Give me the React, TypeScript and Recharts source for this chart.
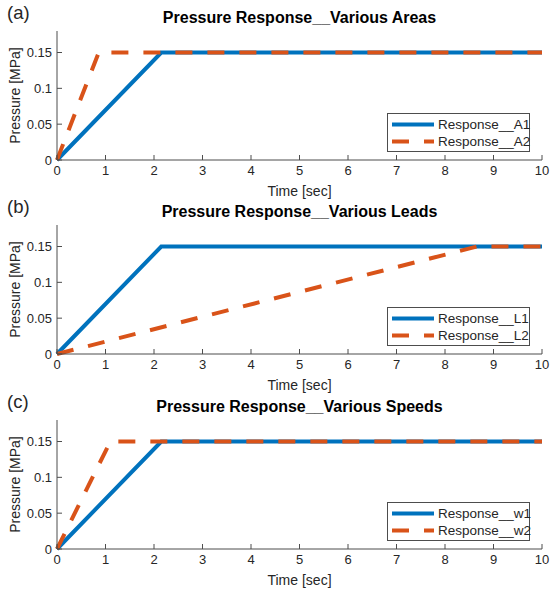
import { LineChart, Line, XAxis, YAxis, Label } from "recharts"

const FONT = '"Liberation Sans", Arial, Helvetica, sans-serif'
const TEXT = "#262626"
const AXIS = "#4d4d4d"
const BLUE = "#0072BD"
const ORANGE = "#D95319"

// time breakpoints [sec] and pressure values [MPa] per series
const tA1 = [0, 2.15, 10]
const pA1 = [0, 0.15, 0.15]
const tA2 = [0, 0.86, 10]
const pA2 = [0, 0.15, 0.15]

const tL1 = [0, 2.15, 10]
const pL1 = [0, 0.15, 0.15]
const tL2 = [0, 8.66, 10]
const pL2 = [0, 0.15, 0.15]

const tW1 = [0, 2.15, 10]
const pW1 = [0, 0.15, 0.15]
const tW2 = [0, 1.1, 10]
const pW2 = [0, 0.15, 0.15]

const xTicks = [0, 1, 2, 3, 4, 5, 6, 7, 8, 9, 10]
const yTicks = [0, 0.05, 0.1, 0.15]

const toRows = (t: number[], p: number[]) => t.map((v, i) => ({ t: v, p: p[i] }))

const panels = [
  {
    tag: "(a)",
    title: "Pressure Response__Various Areas",
    names: ["Response__A1", "Response__A2"],
    s1: toRows(tA1, pA1),
    s2: toRows(tA2, pA2),
    top: 0,
  },
  {
    tag: "(b)",
    title: "Pressure Response__Various Leads",
    names: ["Response__L1", "Response__L2"],
    s1: toRows(tL1, pL1),
    s2: toRows(tL2, pL2),
    top: 194,
  },
  {
    tag: "(c)",
    title: "Pressure Response__Various Speeds",
    names: ["Response__w1", "Response__w2"],
    s1: toRows(tW1, pW1),
    s2: toRows(tW2, pW2),
    top: 389,
  },
]

const tickStyle = { fontSize: 13, fill: TEXT, fontFamily: FONT }

function Panel({ tag, title, names, s1, s2, top }: (typeof panels)[number]) {
  return (
    <div style={{ position: "absolute", left: 0, top, width: 551, height: 200 }}>
      <LineChart
        width={551}
        height={200}
        margin={{ top: 31, right: 9, bottom: 0, left: 12 }}
        style={{ fontFamily: FONT }}
      >
        <XAxis
          xAxisId="b"
          type="number"
          dataKey="t"
          domain={[0, 10]}
          ticks={xTicks}
          height={40}
          tick={tickStyle}
          tickSize={-5}
          tickMargin={11}
          stroke={AXIS}
        >
          <Label
            value="Time [sec]"
            position="insideBottom"
            offset={4}
            style={{ fontSize: 14, fill: TEXT, fontFamily: FONT }}
          />
        </XAxis>
        <XAxis
          xAxisId="t"
          orientation="top"
          type="number"
          dataKey="t"
          domain={[0, 10]}
          ticks={xTicks}
          height={0}
          tick={false}
          tickSize={-5}
          stroke={AXIS}
        />
        <YAxis
          yAxisId="l"
          type="number"
          domain={[0, 0.18]}
          ticks={yTicks}
          width={45}
          tick={tickStyle}
          tickSize={-5}
          tickMargin={10}
          stroke={AXIS}
        >
          <Label
            value="Pressure [MPa]"
            angle={-90}
            position="insideLeft"
            offset={3}
            style={{ fontSize: 14, fill: TEXT, fontFamily: FONT, textAnchor: "middle" }}
          />
        </YAxis>
        <YAxis
          yAxisId="r"
          orientation="right"
          type="number"
          domain={[0, 0.18]}
          ticks={yTicks}
          width={0}
          tick={false}
          tickSize={-5}
          stroke={AXIS}
        />
        <Line
          xAxisId="b"
          yAxisId="l"
          data={s1}
          dataKey="p"
          type="linear"
          stroke={BLUE}
          strokeWidth={4}
          dot={false}
          isAnimationActive={false}
        />
        <Line
          xAxisId="b"
          yAxisId="l"
          data={s2}
          dataKey="p"
          type="linear"
          stroke={ORANGE}
          strokeWidth={4}
          strokeDasharray="17 15"
          dot={false}
          isAnimationActive={false}
        />
      </LineChart>
      <div
        style={{
          position: "absolute",
          left: 7,
          top: 2,
          fontSize: 18.5,
          color: TEXT,
          fontFamily: FONT,
        }}
      >
        {tag}
      </div>
      <div
        style={{
          position: "absolute",
          left: 57,
          width: 485,
          top: 9,
          textAlign: "center",
          fontSize: 16,
          fontWeight: "bold",
          color: "#000",
          fontFamily: FONT,
          whiteSpace: "nowrap",
        }}
      >
        {title}
      </div>
      <div
        style={{
          position: "absolute",
          left: 387,
          top: 113,
          width: 143,
          height: 39,
          boxSizing: "border-box",
          border: `1px solid ${AXIS}`,
          background: "#fff",
          fontFamily: FONT,
          fontSize: 13.5,
          color: TEXT,
        }}
      >
        {names.map((n, i) => (
          <div
            key={n}
            style={{ position: "absolute", left: 3, top: i === 0 ? 2 : 19, height: 17, display: "flex", alignItems: "center" }}
          >
            <svg width={44} height={17}>
              <line
                x1={1}
                y1={8.5}
                x2={43}
                y2={8.5}
                stroke={i === 0 ? BLUE : ORANGE}
                strokeWidth={4}
                strokeDasharray={i === 0 ? undefined : "17 15"}
              />
            </svg>
            <span style={{ marginLeft: 3, whiteSpace: "nowrap" }}>{n}</span>
          </div>
        ))}
      </div>
    </div>
  )
}

export default function App() {
  return (
    <div style={{ position: "absolute", left: 0, top: 0, width: 551, height: 595, background: "#fff" }}>
      {panels.map((p) => (
        <Panel key={p.tag} {...p} />
      ))}
    </div>
  )
}
